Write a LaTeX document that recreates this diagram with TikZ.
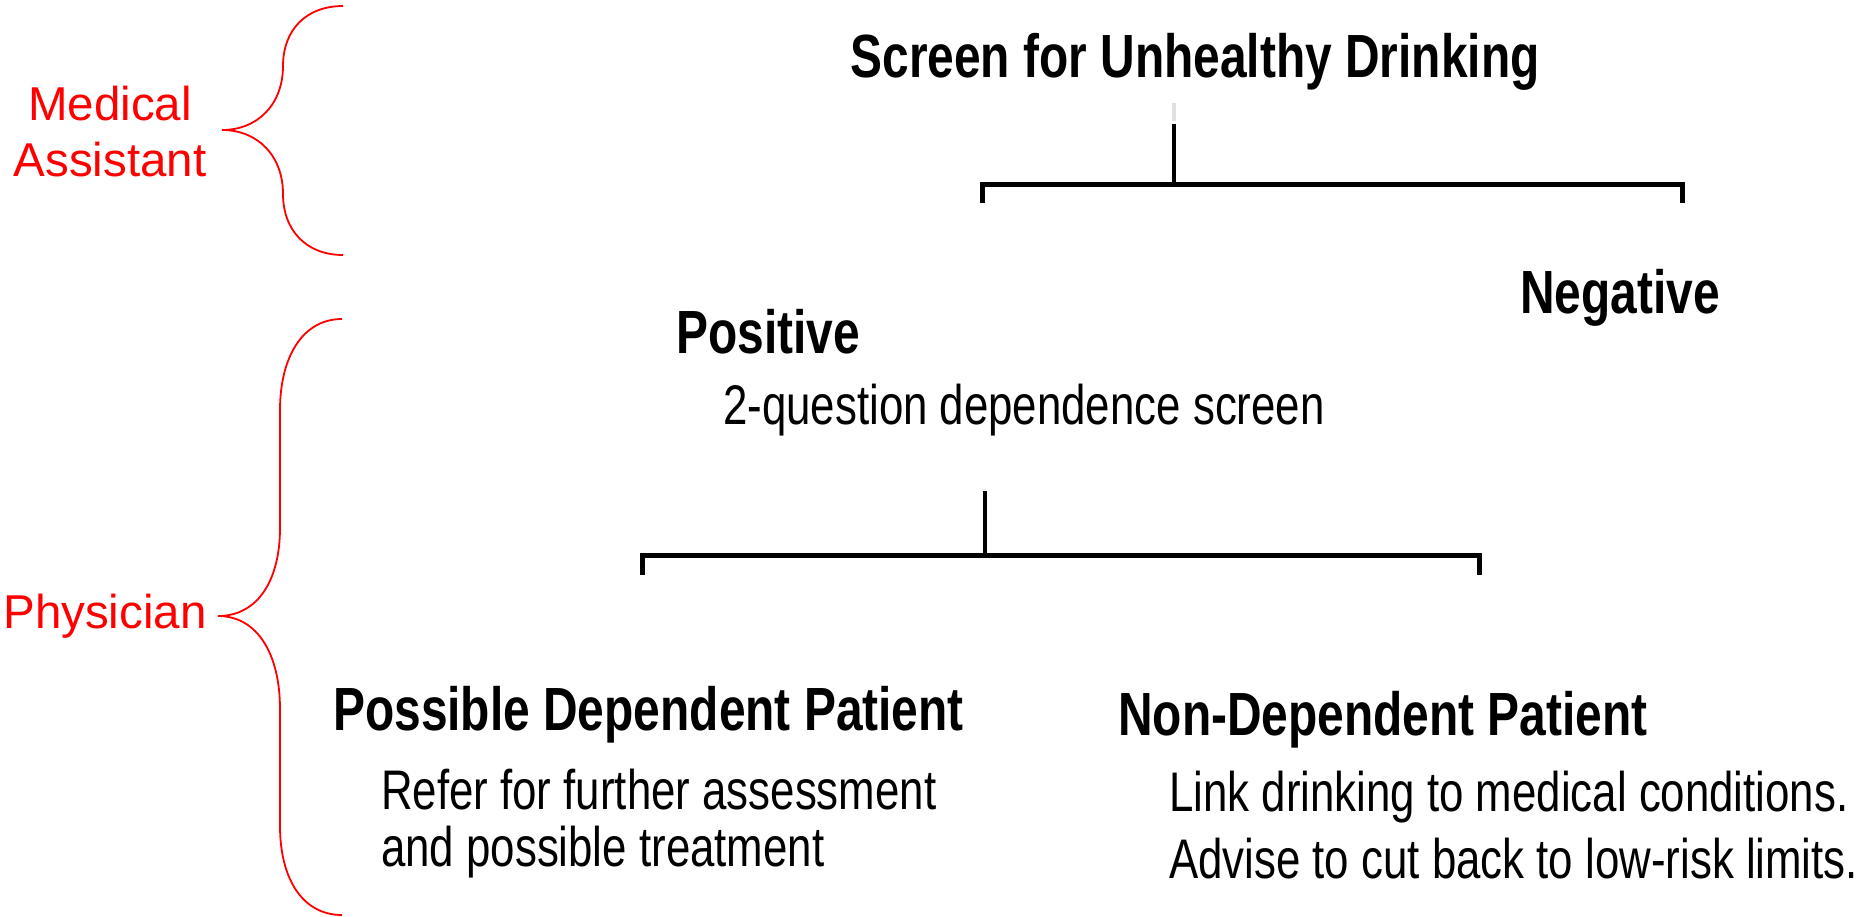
\documentclass[tikz,border=0pt]{standalone}
\usepackage{fontspec}
\setmainfont{Liberation Sans}
\newfontfamily\narrowfont[FakeStretch=0.785]{Liberation Sans}
\begin{document}
\begin{tikzpicture}[x=1pt,y=-1pt,
  boldtxt/.style={inner sep=0pt, anchor=base west, font=\narrowfont\bfseries\fontsize{61}{66}\selectfont},
  regtxt/.style={inner sep=0pt, anchor=base west, font=\narrowfont\fontsize{55.8}{66}\selectfont},
  roletxt/.style={inner sep=0pt, text=red, align=center, font=\fontsize{47.5}{56}\selectfont},
  brace/.style={draw=red, line width=1.8pt},
  stem/.style={draw=black, line width=4pt},
  bar/.style={draw=black, line width=5pt, line join=miter},
  stub/.style={draw=black!12, line width=4pt}
]
\useasboundingbox[fill=white] (0,0) rectangle (1865,916);

% role labels and braces
\node[roletxt] (ma) at (110,132) {Medical\\Assistant};
\node[roletxt, anchor=base] (ph) at (105,628) {Physician};

\draw[brace] (343,6) .. controls (306,6) and (283,30) .. (283,66)
  .. controls (283,104) and (258,130) .. (222,130)
  .. controls (258,130) and (283,156) .. (283,194)
  .. controls (283,230) and (306,255) .. (343,255);

\draw[brace] (342,319) .. controls (302,319) and (280,358) .. (280,410) -- (280,528)
  .. controls (280,580) and (258,616) .. (218,616)
  .. controls (258,616) and (280,655) .. (280,709) -- (280,826)
  .. controls (280,878) and (302,915) .. (342,915);

% first decision
\node[boldtxt, anchor=base] (title) at (1195,77) {Screen for Unhealthy Drinking};
\coordinate (s0) at (1174,103);
\coordinate (s1) at (1174,121);
\coordinate (j1) at (1174,184);
\coordinate (l1) at (982,184);
\coordinate (r1) at (1682,184);
\coordinate (l1e) at (982,203);
\coordinate (r1e) at (1682,203);
\draw[stub] (s0) -- (s1);
\draw[stem] (1174,124) -- (j1);
\draw[bar] (l1e) -- (l1) -- (r1) -- (r1e);

\node[boldtxt, anchor=base] (neg) at (1620,313) {Negative};
\node[boldtxt] (pos) at (676,353) {Positive};
\node[regtxt] (twoq) at (723,424) {2-question dependence screen};

% second decision
\coordinate (t2) at (985,491);
\coordinate (j2) at (985,555);
\coordinate (l2) at (642,555);
\coordinate (r2) at (1479,555);
\coordinate (l2e) at (642,575);
\coordinate (r2e) at (1479,575);
\draw[stem] (t2) -- (j2);
\draw[bar] (l2e) -- (l2) -- (r2) -- (r2e);

\node[boldtxt] (pdp) at (333,730) {Possible Dependent Patient};
\node[regtxt] (refer) at (381,809) {Refer for further assessment};
\node[regtxt] (treat) at (381,866) {and possible treatment};

\node[boldtxt] (ndp) at (1118,735) {Non-Dependent Patient};
\node[regtxt] (link) at (1169,811) {Link drinking to medical conditions.};
\node[regtxt] (advise) at (1169,878) {Advise to cut back to low-risk limits.};
\end{tikzpicture}
\end{document}
